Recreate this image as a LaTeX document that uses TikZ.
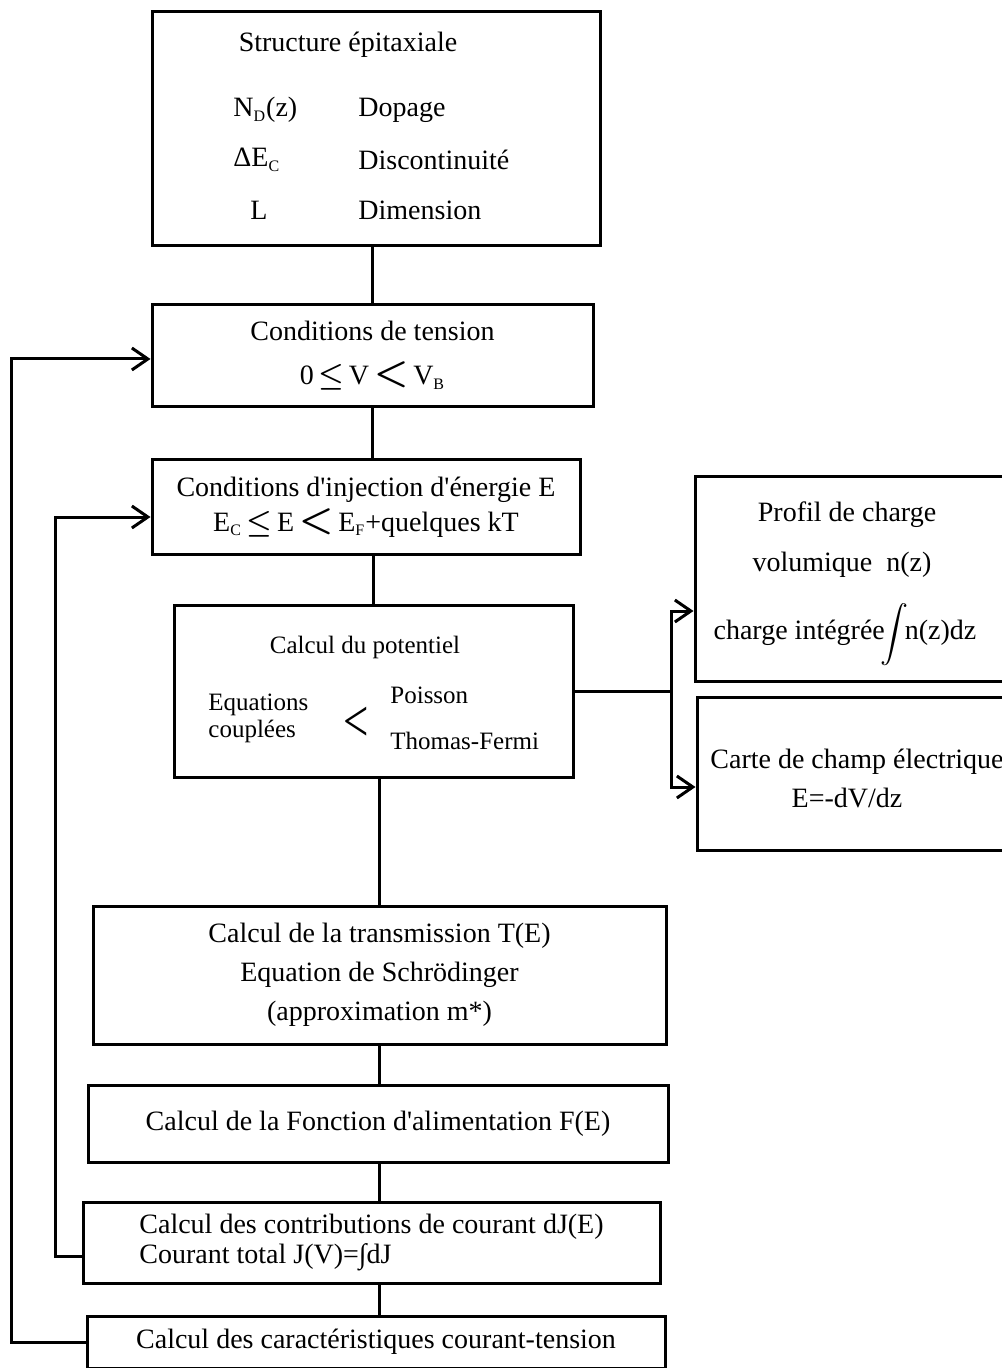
\documentclass[tikz,border=0pt]{standalone}
\usepackage{fontspec}
\setmainfont{Liberation Serif}
\usepackage{graphicx}
\usetikzlibrary{arrows.meta}

\newcommand\sub[1]{\textsubscript{\fontsize{8}{8}\selectfont #1}}
\newcommand\infeg{\,{\boldmath$\leq$}\,}
\newcommand\infst{\,{\boldmath\scalebox{1.35}{$<$}}\,}

\begin{document}
\begin{tikzpicture}[
  x=0.5pt,y=-0.5pt,
  box/.style={draw,line width=1.5pt,inner sep=0pt,align=center,
              font=\fontsize{14}{17}\selectfont},
  wh/.style 2 args={minimum width=#1*0.5pt,minimum height=#2*0.5pt},
  txt/.style={inner sep=0pt,font=\fontsize{14}{17}\selectfont},
  small/.style={inner sep=0pt,font=\fontsize{12.5}{13.5}\selectfont,align=left},
  link/.style={line width=1.5pt},
  arr/.style={line width=1.5pt,-{Straight Barb[length=8pt,width=11pt]}}
]

  \path[fill=white,use as bounding box] (0,0) rectangle (1001,1368);

  %% ===== main column =====

  % Structure epitaxiale
  \node[box,wh={448}{234}] (struct) at (376,129) {};
  \node[txt] (titre) at (348,45) {Structure épitaxiale};
  \node[txt,anchor=west] (nd)   at (233,110) {N\sub{D}(z)};
  \node[txt,anchor=west] (dec)  at (233,160) {ΔE\sub{C}};
  \node[txt,anchor=west] (ll)   at (250,210) {L};
  \node[txt,anchor=west] (dop)  at (358,110) {Dopage};
  \node[txt,anchor=west] (disc) at (358,160) {Discontinuité};
  \node[txt,anchor=west] (dim)  at (358,210) {Dimension};

  % Conditions de tension
  \node[box,wh={441}{102},font=\fontsize{14}{22}\selectfont] (tension) at (372.5,356)
    {Conditions de tension\\0\infeg V\infst V\sub{B}};

  % Conditions d'injection
  \node[box,wh={428}{94},font=\fontsize{14}{17.5}\selectfont] (inject) at (366,507)
    {Conditions d\textquotesingle injection d\textquotesingle énergie E\\E\sub{C}\infeg E\infst E\sub{F}+quelques kT};

  % Calcul du potentiel
  \node[box,wh={399}{172}] (potentiel) at (373.5,691) {};
  \node[small] (pot) at (365,647) {Calcul du potentiel};
  \node[small,anchor=west] (eqc) at (208,718) {Equations\\couplées};
  \node[inner sep=0pt,font=\fontsize{30}{30}\selectfont] (brk) at (356,724) {\scalebox{0.75}[1]{<}};
  \node[small,anchor=west] (poi) at (390,695) {Poisson};
  \node[small,anchor=west] (tf)  at (390,741) {Thomas-Fermi};

  % Transmission
  \node[box,wh={573}{138},font=\fontsize{14}{19.5}\selectfont] (transm) at (379.5,975)
    {Calcul de la transmission T(E)\\Equation de Schrödinger\\(approximation m*)};

  % Fonction d'alimentation
  \node[box,wh={580}{77}] (fonction) at (378,1123.5)
    {Calcul de la Fonction d\textquotesingle alimentation F(E)};

  % Contributions de courant
  \node[box,wh={577}{81},align=left,font=\fontsize{14}{15}\selectfont] (contrib) at (371.5,1242.5)
    {Calcul des contributions de courant dJ(E)\\Courant total J(V)=∫dJ};

  % Caracteristiques I-V
  \node[box,wh={578}{52}] (caract) at (376,1342)
    {Calcul des caractéristiques courant-tension};

  %% ===== right column =====
  \node[box,wh={320}{204}] (profil) at (855,579) {};
  \node[txt] (pc)  at (847,515) {Profil de charge};
  \node[txt] (vol) at (842,565) {volumique~ n(z)};
  \node[txt] (ci)  at (845,635) {charge intégrée\hspace{-2pt}\raisebox{-3pt}{\scalebox{1.4}{$\displaystyle\int$}}\hspace{-2pt}n(z)dz};

  \node[box,wh={318}{153}] (carte) at (856,773.5) {};
  \node[txt,anchor=west] (cce) at (710,762) {Carte de champ électrique};
  \node[txt] (edv) at (847,798) {E=-dV/dz};

  %% ===== connectors =====
  \draw[link] (tension.north |- struct.south) -- (tension.north);
  \draw[link] (tension.south) -- (tension.south |- inject.north);
  \draw[link] (potentiel.north |- inject.south) -- (potentiel.north);
  \draw[link] (transm.north |- potentiel.south) -- (transm.north);
  \draw[link] (transm.south) -- (transm.south |- fonction.north);
  \draw[link] (fonction.south -| transm.south) -- (contrib.north -| transm.south);
  \draw[link] (contrib.south -| transm.south) -- (caract.north -| transm.south);

  % towards charge and field
  \coordinate (branch) at (671,691);
  \draw[link] (potentiel.east) -- (branch);
  \draw[arr] (branch) |- ([yshift=-16pt]profil.west);
  \draw[arr] (branch) |- ([yshift=-6.75pt]carte.west);

  % feedback loops
  \draw[arr] ([yshift=-6.75pt]contrib.west) -- ++(-26,0) |- ([yshift=-5pt]inject.west);
  \draw[arr] (caract.west) -- ++(-74,0) |- ([yshift=-1.5pt]tension.west);

\end{tikzpicture}
\end{document}
